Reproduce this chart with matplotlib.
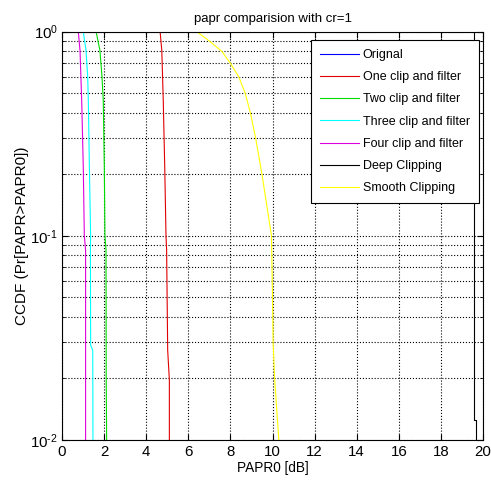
import numpy as np
import matplotlib
matplotlib.use('Agg')
import matplotlib.pyplot as plt
from matplotlib.ticker import LogLocator, FuncFormatter

plt.rcParams['font.family'] = ['Liberation Sans', 'DejaVu Sans']
plt.rcParams['mathtext.fontset'] = 'custom'
plt.rcParams['mathtext.rm'] = 'Liberation Sans'
plt.rcParams['mathtext.it'] = 'Liberation Sans'

# CCDF curves: (probability, PAPR0 in dB)
p_orig = [1.0, 0.1, 0.01]
x_orig = [21.0, 21.5, 22.0]          # outside the x range, not visible

p_one = [1.0, 0.81, 0.46, 0.217, 0.1, 0.085, 0.0275, 0.0196, 0.01]
x_one = [4.66, 4.74, 4.81, 4.88, 4.94, 4.97, 5.02, 5.1, 5.1]

p_two = [1.0, 0.81, 0.6, 0.46, 0.217, 0.1, 0.085, 0.02, 0.01]
x_two = [1.62, 1.8, 1.9, 1.96, 2.01, 2.04, 2.09, 2.1, 2.12]

p_three = [1.0, 0.81, 0.6, 0.46, 0.217, 0.1, 0.085, 0.029, 0.0275, 0.01]
x_three = [1.01, 1.14, 1.22, 1.25, 1.30, 1.36, 1.35, 1.36, 1.46, 1.47]

p_four = [1.0, 0.81, 0.46, 0.217, 0.1, 0.085, 0.01]
x_four = [0.775, 0.855, 0.935, 1.01, 1.06, 1.12, 1.12]

p_deep = [1.0, 0.0125, 0.0125, 0.01]
x_deep = [19.57, 19.57, 19.67, 19.67]

p_smooth = [1.0, 0.9, 0.8, 0.7, 0.6, 0.5, 0.4, 0.3, 0.2, 0.1, 0.05, 0.03, 0.02, 0.01]
x_smooth = [6.4, 7.0, 7.6, 8.0, 8.4, 8.7, 8.95, 9.2, 9.5, 9.95, 10.0, 10.03, 10.1, 10.3]

labels = ['Orignal', 'One clip and filter', 'Two clip and filter',
          'Three clip and filter', 'Four clip and filter',
          'Deep Clipping', 'Smooth Clipping']


def pow10_label(v, pos):
    e = int(round(np.log10(v)))
    return r'$10^{\text{%d}}$' % e


fig = plt.figure(figsize=(4.91, 4.83), dpi=100)
ax = fig.add_axes([0.1263, 0.0896, 0.8574, 0.8448])

ax.semilogy(x_orig, p_orig, color='#0000ff', lw=0.8, label=labels[0])
ax.semilogy(x_one, p_one, color='#e00000', lw=0.8, label=labels[1])
ax.semilogy(x_two, p_two, color='#00dd00', lw=0.8, label=labels[2])
ax.semilogy(x_three, p_three, color='#00ffff', lw=0.8, label=labels[3])
ax.semilogy(x_four, p_four, color='#dd00dd', lw=0.8, label=labels[4])
ax.semilogy(x_deep, p_deep, color='black', lw=0.8, label=labels[5])
ax.semilogy(x_smooth, p_smooth, color='#ffff00', lw=0.8, label=labels[6])

ax.set_xlim(0, 20)
ax.set_ylim(0.01, 1)
ax.set_xticks(np.arange(0, 21, 2))
ax.yaxis.set_major_locator(LogLocator(base=10))
ax.yaxis.set_major_formatter(FuncFormatter(pow10_label))
ax.yaxis.set_minor_locator(LogLocator(base=10, subs=np.arange(2, 10)))
ax.yaxis.set_minor_formatter(plt.NullFormatter())

ax.grid(True, which='major', linestyle=':', color='black', lw=0.8)
ax.grid(True, which='minor', axis='y', linestyle=':', color='black', lw=0.8)
ax.tick_params(which='both', direction='in', top=True, right=True, labelsize=10.8)
ax.tick_params(which='major', length=4, pad=4)
ax.tick_params(which='minor', length=2)
ax.tick_params(axis='y', which='major', pad=3)
for s in ax.spines.values():
    s.set_linewidth(0.8)

ax.set_title('papr comparision with cr=1', fontsize=9.5, pad=7)
ax.set_xlabel('PAPR0 [dB]', fontsize=9.8, labelpad=1)
ax.set_ylabel('CCDF (Pr[PAPR>PAPR0])', fontsize=11)
ax.yaxis.set_label_coords(-0.079, 0.5)

leg = ax.legend(loc='upper right', bbox_to_anchor=(0.9905, 0.9797),
                fontsize=9, frameon=True, fancybox=False,
                edgecolor='black', framealpha=1, handlelength=3.1,
                handletextpad=0.3, borderaxespad=0, labelspacing=0.82,
                borderpad=0.72)
leg.get_frame().set_linewidth(0.8)

fig.savefig('out.png', dpi=100)
